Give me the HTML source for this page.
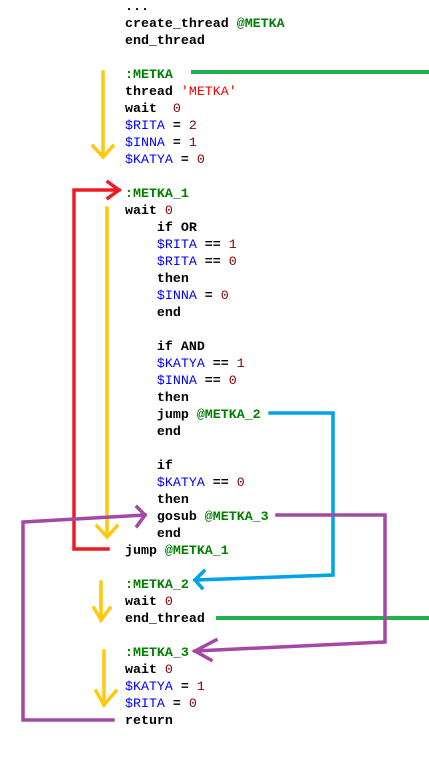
<!DOCTYPE html>
<html><head><style>
html,body{margin:0;padding:0;background:#fff;width:429px;height:758px;overflow:hidden}
.l{position:absolute;font-family:"Liberation Mono",monospace;font-size:13.3px;line-height:17px;white-space:pre;font-weight:bold;color:#000}
.g{color:#008000}.b{color:#0000ff;font-weight:normal}.n{color:#800000;font-weight:normal}.r{color:#ff0000;font-weight:normal}
svg{position:absolute;left:0;top:0}
</style></head><body>
<div class="l" style="left:125px;top:-2px">...
create_thread <span class="g">@METKA</span>
end_thread

<span class="g">:METKA</span>
thread <span class="r">'METKA'</span>
wait  <span class="n">0</span>
<span class="b">$RITA</span> = <span class="n">2</span>
<span class="b">$INNA</span> = <span class="n">1</span>
<span class="b">$KATYA</span> = <span class="n">0</span>

<span class="g">:METKA_1</span>
wait <span class="n">0</span>
    if OR
    <span class="b">$RITA</span> == <span class="n">1</span>
    <span class="b">$RITA</span> == <span class="n">0</span>
    then
    <span class="b">$INNA</span> = <span class="n">0</span>
    end

    if AND
    <span class="b">$KATYA</span> == <span class="n">1</span>
    <span class="b">$INNA</span> == <span class="n">0</span>
    then
    jump <span class="g">@METKA_2</span>
    end

    if
    <span class="b">$KATYA</span> == <span class="n">0</span>
    then
    gosub <span class="g">@METKA_3</span>
    end
jump <span class="g">@METKA_1</span>

<span class="g">:METKA_2</span>
wait <span class="n">0</span>
end_thread

<span class="g">:METKA_3</span>
wait <span class="n">0</span>
<span class="b">$KATYA</span> = <span class="n">1</span>
<span class="b">$RITA</span> = <span class="n">0</span>
return</div>
<svg width="429" height="758" fill="none" stroke-width="3.5" stroke-linecap="square">
<g stroke="#ffc90e">
<path d="M103 72V156M93 146L103 157L113 146"/>
<path d="M107 208V536M97 526L107 537L117 526"/>
<path d="M101 582V620M94 608L101 620L110 608"/>
<path d="M104 651V705M96 691L104 705L116 691"/>
</g>
<g stroke="#22b14c" stroke-width="4"><path d="M193 72H429M218 618H429"/></g>
<path stroke="#ed1c24" d="M108 549H74V190H119M108 182L119 190L108 198"/>
<path stroke="#00a2e8" d="M270 413H333V575L195 580M204 571L195 580L202 588"/>
<g stroke="#a349a4">
<path d="M277 515H385V642L195 651M216 640L195 651L211 660"/>
<path d="M113 720H23V522L145 515M137 507L145 515L137 526"/>
</g>
</svg>
</body></html>
